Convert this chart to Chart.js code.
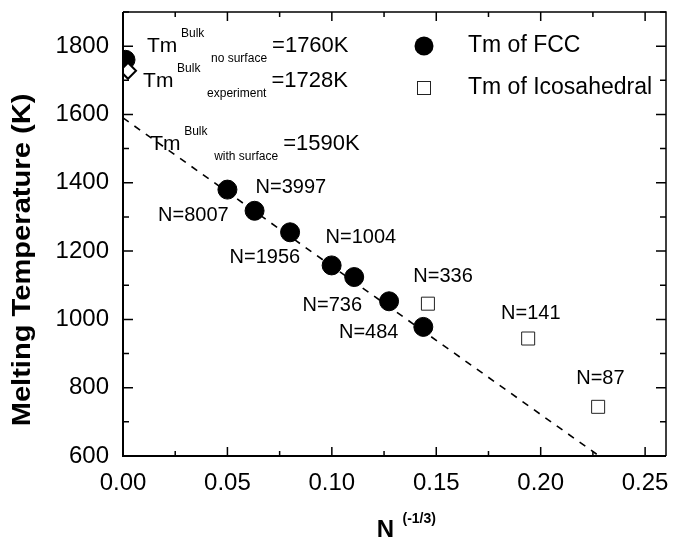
<!DOCTYPE html>
<html>
<head>
<meta charset="utf-8">
<script src="https://cdn.jsdelivr.net/npm/chart.js@4.4.0/dist/chart.umd.min.js"></script>
<style>
  html, body { margin: 0; padding: 0; background: #fff; }
</style>
</head>
<body>
<canvas id="meltChart" width="689" height="542"></canvas>
<script>
// melting temperature vs N^(-1/3)
const fccX = [0.0012, 0.050, 0.063, 0.080, 0.0999, 0.1107, 0.1274, 0.1438];
const fccY = [1760, 1380, 1318, 1255, 1158, 1124, 1053, 978];
const icoX = [0.146, 0.194, 0.2275];
const icoY = [1046, 944, 744];
const expX = [0.0024];
const expY = [1728];
const fitX = [0.0, 0.228];
const fitY = [1590, 600];

const sizeLabels = ['N=8007', 'N=3997', 'N=1956', 'N=1004', 'N=736', 'N=484', 'N=336', 'N=141', 'N=87'];
const sizeLabelX = [0.0168, 0.0635, 0.051, 0.097, 0.086, 0.1034, 0.139, 0.181, 0.217];
const sizeLabelY = [1304, 1386, 1181, 1239, 1041, 963, 1126, 1017, 828];

const bulkSub = ['no surface', 'experiment', 'with surface'];
const bulkValue = ['=1760K', '=1728K', '=1590K'];
const bulkX = [0.0115, 0.0096, 0.013];
const bulkY = [1800, 1698, 1514];

const legendNames = ['Tm of FCC', 'Tm of Icosahedral'];

const FONT = "'Liberation Sans', Arial, sans-serif";

function toPoints(xs, ys) {
    return xs.map((x, i) => ({ x: x, y: ys[i] }));
}

const frameAndTicks = {
    id: 'frameAndTicks',
    afterDatasetsDraw(chart) {
        const { ctx, chartArea: a, scales } = chart;
        const x = scales.x, y = scales.y;
        ctx.save();
        ctx.strokeStyle = '#000';
        ctx.lineWidth = 2;
        ctx.beginPath();
        ctx.moveTo(a.left, a.top);
        ctx.lineTo(a.left, a.bottom);
        ctx.lineTo(a.right, a.bottom);
        ctx.stroke();
        ctx.lineWidth = 1.5;
        ctx.beginPath();
        ctx.moveTo(a.left, a.top);
        ctx.lineTo(a.right, a.top);
        ctx.lineTo(a.right, a.bottom);
        ctx.stroke();

        // inward ticks, all four sides
        ctx.lineWidth = 1.5;
        ctx.beginPath();
        for (let i = 0; i * 0.025 <= x.max + 1e-9; i++) {
            const px = x.getPixelForValue(i * 0.025);
            const len = i % 2 === 0 ? 9 : 5;
            ctx.moveTo(px, a.bottom); ctx.lineTo(px, a.bottom - len);
            ctx.moveTo(px, a.top); ctx.lineTo(px, a.top + len);
        }
        for (let v = y.min; v <= y.max; v += 100) {
            const py = y.getPixelForValue(v);
            const len = v % 200 === 0 ? 10 : 6;
            ctx.moveTo(a.left, py); ctx.lineTo(a.left + len, py);
            ctx.moveTo(a.right, py); ctx.lineTo(a.right - len, py);
        }
        ctx.stroke();
        ctx.restore();
    }
};

const textLayer = {
    id: 'textLayer',
    afterDraw(chart) {
        const { ctx, chartArea: a, scales } = chart;
        const x = scales.x, y = scales.y;
        ctx.save();
        ctx.fillStyle = '#000';
        ctx.textBaseline = 'middle';
        ctx.textAlign = 'left';

        // cluster size labels
        ctx.font = '20px ' + FONT;
        sizeLabels.forEach((t, i) => {
            ctx.fillText(t, x.getPixelForValue(sizeLabelX[i]), y.getPixelForValue(sizeLabelY[i]));
        });

        // bulk melting temperatures
        bulkSub.forEach((sub, i) => {
            const px = x.getPixelForValue(bulkX[i]);
            const py = y.getPixelForValue(bulkY[i]);
            ctx.font = '21px ' + FONT;
            ctx.fillText('Tm', px, py);
            ctx.font = '12px ' + FONT;
            ctx.fillText('Bulk', px + 34, py - 12);
            ctx.fillText(sub, px + 64, py + 13);
            const subEnd = px + 64 + ctx.measureText(sub).width;
            ctx.font = '22px ' + FONT;
            ctx.fillText(bulkValue[i], subEnd + 5, py);
        });

        // legend
        const lx = a.left + 301;
        const ly = [a.top + 34, a.top + 76];
        ctx.beginPath();
        ctx.arc(lx, ly[0], 9.5, 0, Math.PI * 2);
        ctx.fill();
        ctx.strokeStyle = '#222';
        ctx.lineWidth = 1;
        ctx.strokeRect(lx - 6.5, ly[1] - 6.5, 13, 13);
        ctx.font = '23px ' + FONT;
        ctx.fillText(legendNames[0], lx + 44, ly[0]);
        ctx.fillText(legendNames[1], lx + 44, ly[1]);

        // axis titles
        const mid = (a.left + a.right) / 2;
        ctx.font = 'bold 24px ' + FONT;
        ctx.textAlign = 'center';
        ctx.fillText('N', mid - 9, a.bottom + 74);
        ctx.font = 'bold 14px ' + FONT;
        ctx.textAlign = 'left';
        ctx.fillText('(-1/3)', mid + 8, a.bottom + 63);

        ctx.translate(23, 260);
        ctx.rotate(-Math.PI / 2);
        ctx.scale(1.12, 1);
        ctx.textAlign = 'center';
        ctx.font = 'bold 26px ' + FONT;
        ctx.fillText('Melting Temperature (K)', 0, 0);
        ctx.restore();
    }
};

new Chart(document.getElementById('meltChart'), {
    type: 'scatter',
    data: {
        datasets: [
            {
                label: 'Tm of FCC',
                data: toPoints(fccX, fccY),
                pointStyle: 'circle',
                pointRadius: 9.5,
                backgroundColor: '#000',
                borderColor: '#000',
                clip: 0,
                order: 1
            },
            {
                label: 'Tm of Icosahedral',
                data: toPoints(icoX, icoY),
                pointStyle: 'rect',
                pointRadius: 9.2,
                backgroundColor: '#fff',
                borderColor: '#222',
                borderWidth: 1,
                clip: 0,
                order: 1
            },
            {
                label: 'Experiment',
                data: toPoints(expX, expY),
                pointStyle: 'rectRot',
                pointRadius: 8,
                backgroundColor: '#fff',
                borderColor: '#000',
                borderWidth: 2,
                clip: 0,
                order: 0
            },
            {
                label: 'Fit',
                type: 'line',
                data: toPoints(fitX, fitY),
                borderColor: '#000',
                borderWidth: 1.6,
                borderDash: [7, 7],
                pointRadius: 0,
                fill: false,
                clip: 0,
                order: 2
            }
        ]
    },
    options: {
        responsive: false,
        animation: false,
        devicePixelRatio: 1,
        layout: { padding: { top: 12, right: 23, left: 0, bottom: 0 } },
        plugins: {
            legend: { display: false },
            tooltip: { enabled: false }
        },
        scales: {
            x: {
                type: 'linear',
                min: 0,
                max: 0.26,
                grid: { display: false, drawTicks: false },
                border: { display: false },
                ticks: {
                    stepSize: 0.05,
                    includeBounds: false,
                    padding: 13,
                    color: '#000',
                    font: { family: FONT, size: 24 },
                    callback: (v) => v.toFixed(2)
                },
                afterFit: (s) => {
                    s.height = 86;
                    s.paddingLeft = 0;
                    s.paddingRight = 0;
                }
            },
            y: {
                type: 'linear',
                min: 600,
                max: 1900,
                grid: { display: false, drawTicks: false },
                border: { display: false },
                ticks: {
                    stepSize: 200,
                    includeBounds: false,
                    padding: 14,
                    color: '#000',
                    font: { family: FONT, size: 24 },
                    callback: (v) => String(v)
                },
                afterFit: (s) => {
                    s.width = 123;
                    s.paddingTop = 0;
                    s.paddingBottom = 0;
                }
            }
        }
    },
    plugins: [frameAndTicks, textLayer]
});
</script>
</body>
</html>
